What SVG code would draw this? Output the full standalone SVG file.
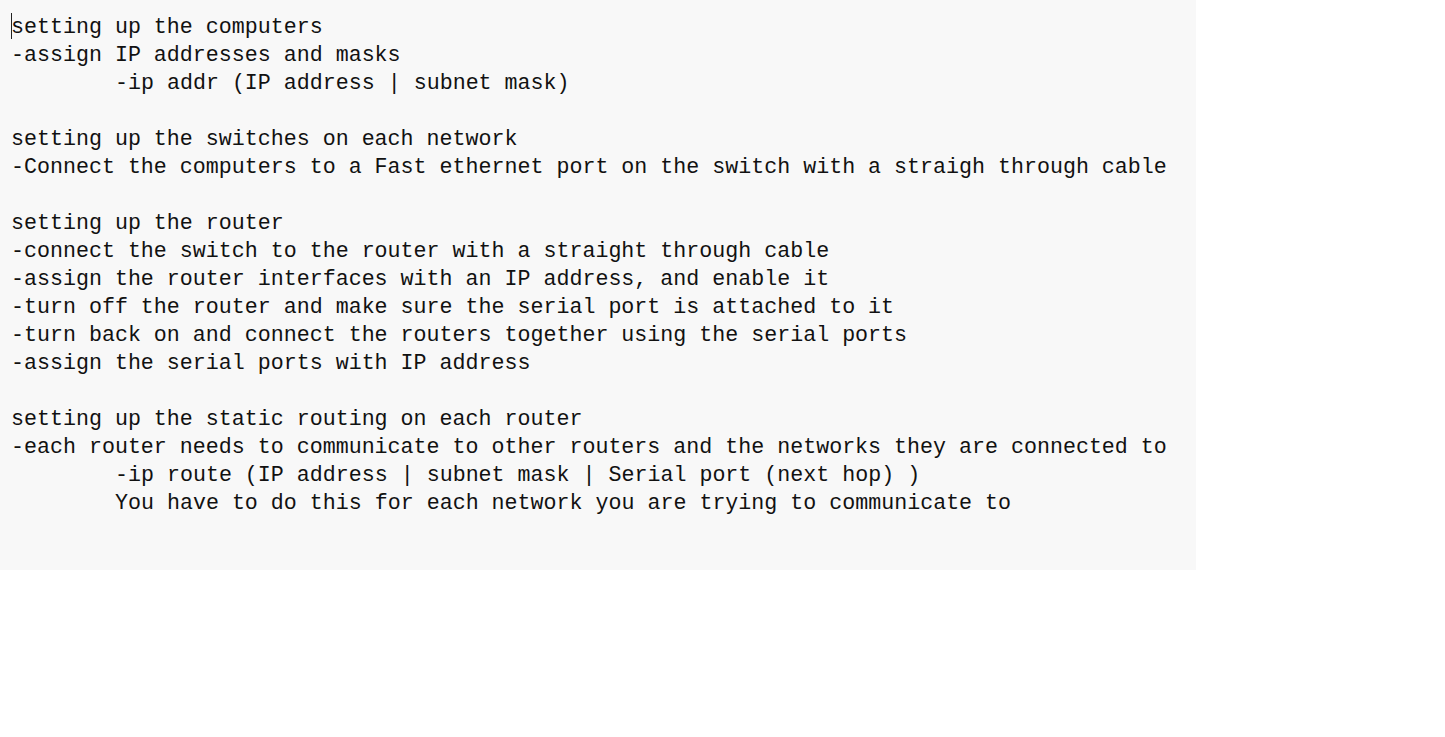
<svg xmlns="http://www.w3.org/2000/svg" width="1445" height="737" viewBox="0 0 1445 737">
<style>
text{font-family:"Liberation Mono","DejaVu Sans Mono",monospace;font-size:21.65px;fill:#111;white-space:pre}
</style>
<rect x="0" y="0" width="1445" height="737" fill="#ffffff"/>
<rect x="0" y="0" width="1196" height="570" fill="#f8f8f8"/>
<line x1="11.5" y1="13" x2="11.5" y2="39" stroke="#222" stroke-width="1"/>
<g id="notes">
<text x="11" y="33">setting up the computers</text>
<text x="11" y="61">-assign IP addresses and masks</text>
<text x="115" y="89">-ip addr (IP address | subnet mask)</text>
<text x="11" y="145">setting up the switches on each network</text>
<text x="11" y="173">-Connect the computers to a Fast ethernet port on the switch with a straigh through cable</text>
<text x="11" y="229">setting up the router</text>
<text x="11" y="257">-connect the switch to the router with a straight through cable</text>
<text x="11" y="285">-assign the router interfaces with an IP address, and enable it</text>
<text x="11" y="313">-turn off the router and make sure the serial port is attached to it</text>
<text x="11" y="341">-turn back on and connect the routers together using the serial ports</text>
<text x="11" y="369">-assign the serial ports with IP address</text>
<text x="11" y="425">setting up the static routing on each router</text>
<text x="11" y="453">-each router needs to communicate to other routers and the networks they are connected to</text>
<text x="115" y="481">-ip route (IP address | subnet mask | Serial port (next hop) )</text>
<text x="115" y="509">You have to do this for each network you are trying to communicate to</text>
</g>
</svg>
